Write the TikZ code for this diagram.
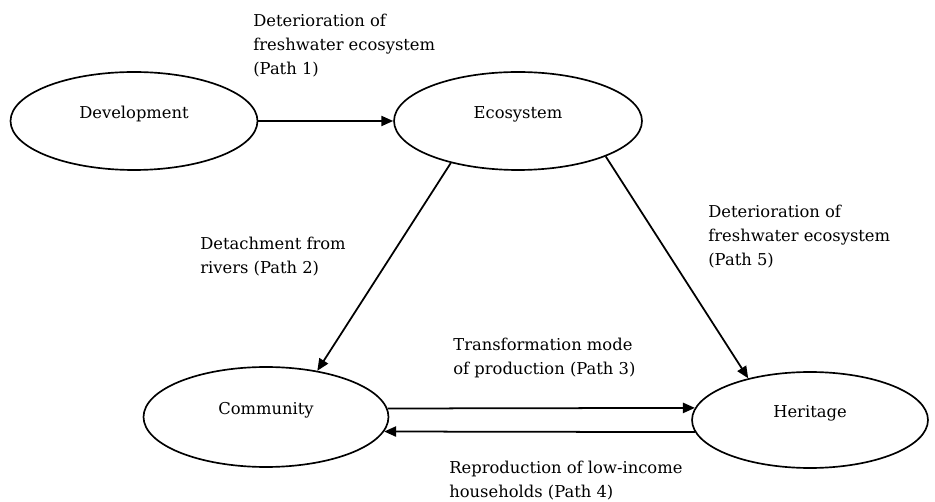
\documentclass[tikz,border=0pt]{standalone}
\usepackage{fontspec}
\setmainfont{DejaVu Serif}
\usepackage{tikz}
\usetikzlibrary{shapes.geometric,arrows.meta}

\begin{document}
\begin{tikzpicture}[
  x=0.02cm, y=-0.02cm,
  concept/.style={draw, ellipse, line width=0.95pt, inner sep=0pt,
                  text height=6pt, text depth=9pt,
                  font=\fontsize{9.3}{13.6}\selectfont},
  pathlabel/.style={anchor=north west, align=left, inner sep=0pt,
                    font=\fontsize{9.3}{13.6}\selectfont},
  link/.style={-{Triangle[length=6.8pt, width=5.8pt]}, line width=1pt},
]
\useasboundingbox (0,0) rectangle (935,502);

% Concepts
\node[concept, minimum width=4.94cm, minimum height=1.96cm] (dev) at (134,121) {Development};
\node[concept, minimum width=4.96cm, minimum height=1.96cm] (eco) at (518,121) {Ecosystem};
\node[concept, minimum width=4.9cm, minimum height=2cm] (com) at (266,417) {Community};
\node[concept, minimum width=4.72cm, minimum height=1.92cm] (her) at (810,420) {Heritage};

% Paths
\draw[link] (dev.east) -- (eco.west);
\draw[link] (eco.212) -- (com.42);
\draw[link] (eco.-22) -- (her.146);
\draw[link] (com.4) -- (her.174);
\draw[link] (her.186) -- (com.-7);

% Path labels
\node[pathlabel] (p1) at (253,14) {Deterioration of\\freshwater ecosystem\\(Path 1)};
\node[pathlabel] (p2) at (200,237) {Detachment from\\rivers (Path 2)};
\node[pathlabel] (p3) at (453,338) {Transformation mode\\of production (Path 3)};
\node[pathlabel] (p4) at (449,461) {Reproduction of low-income\\households (Path 4)};
\node[pathlabel] (p5) at (708,205) {Deterioration of\\freshwater ecosystem\\(Path 5)};

\end{tikzpicture}
\end{document}
